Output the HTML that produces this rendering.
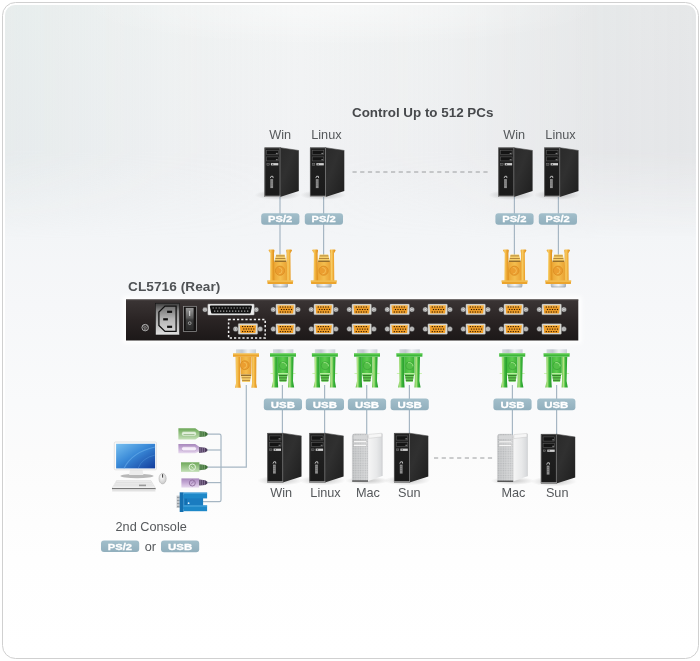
<!DOCTYPE html>
<html><head><meta charset="utf-8"><title>CL5716</title>
<style>
html,body{margin:0;padding:0;background:#fff;}
body{width:700px;height:661px;overflow:hidden;}
svg{display:block;will-change:transform;}
text{font-family:"Liberation Sans",sans-serif;}
</style></head>
<body>
<svg width="700" height="661" viewBox="0 0 700 661">
<defs>
  <linearGradient id="bg" gradientUnits="userSpaceOnUse" x1="0" y1="5" x2="0" y2="656">
    <stop offset="0" stop-color="#f2f4f4"/>
    <stop offset="0.24" stop-color="#f1f2f4"/>
    <stop offset="0.35" stop-color="#f3f5f7"/>
    <stop offset="0.46" stop-color="#f6f7f9"/>
    <stop offset="0.61" stop-color="#f9fafb"/>
    <stop offset="0.69" stop-color="#fbfbfb"/>
    <stop offset="0.85" stop-color="#fefefe"/>
    <stop offset="1" stop-color="#ffffff"/>
  </linearGradient>
  <linearGradient id="vig" gradientUnits="userSpaceOnUse" x1="5" y1="0" x2="695" y2="0">
    <stop offset="0" stop-color="#cfdddc" stop-opacity="0.3"/>
    <stop offset="0.22" stop-color="#cddbda" stop-opacity="0.1"/>
    <stop offset="0.43" stop-color="#d6dcdc" stop-opacity="0"/>
    <stop offset="0.65" stop-color="#d6d8da" stop-opacity="0.12"/>
    <stop offset="0.86" stop-color="#d6d8da" stop-opacity="0.42"/>
    <stop offset="1" stop-color="#d6d8da" stop-opacity="0.45"/>
  </linearGradient>
  <linearGradient id="vigmaskg" gradientUnits="userSpaceOnUse" x1="0" y1="5" x2="0" y2="240">
    <stop offset="0" stop-color="#fff"/>
    <stop offset="0.62" stop-color="#fff"/>
    <stop offset="1" stop-color="#000"/>
  </linearGradient>
  <mask id="vigmask"><rect x="0" y="0" width="700" height="661" fill="url(#vigmaskg)"/></mask>
  <linearGradient id="lbl" x1="0" y1="0" x2="0" y2="1">
    <stop offset="0" stop-color="#a3bfcb"/>
    <stop offset="1" stop-color="#91afbd"/>
  </linearGradient>
  <linearGradient id="dev" x1="0" y1="0" x2="0" y2="1">
    <stop offset="0" stop-color="#3b3535"/>
    <stop offset="0.5" stop-color="#2a2424"/>
    <stop offset="1" stop-color="#1c1818"/>
  </linearGradient>
  <linearGradient id="side" x1="0" y1="0" x2="1" y2="1">
    <stop offset="0" stop-color="#2a2a2a"/>
    <stop offset="0.4" stop-color="#303030"/>
    <stop offset="1" stop-color="#1e1e1e"/>
  </linearGradient>
  <linearGradient id="front" x1="0" y1="0" x2="0" y2="1">
    <stop offset="0" stop-color="#222"/>
    <stop offset="1" stop-color="#1a1a1a"/>
  </linearGradient>
  <linearGradient id="gold" x1="0" y1="0" x2="1" y2="0">
    <stop offset="0" stop-color="#e89c26"/>
    <stop offset="0.3" stop-color="#f7cc62"/>
    <stop offset="0.65" stop-color="#eea732"/>
    <stop offset="1" stop-color="#d88c1a"/>
  </linearGradient>
  <linearGradient id="green" x1="0" y1="0" x2="1" y2="0">
    <stop offset="0" stop-color="#5cc046"/>
    <stop offset="0.3" stop-color="#b4e486"/>
    <stop offset="0.6" stop-color="#3cb63a"/>
    <stop offset="1" stop-color="#24982a"/>
  </linearGradient>
  <linearGradient id="silverv" x1="0" y1="0" x2="0" y2="1">
    <stop offset="0" stop-color="#d8dadc"/>
    <stop offset="0.5" stop-color="#f4f5f6"/>
    <stop offset="1" stop-color="#c4c8cc"/>
  </linearGradient>
  <linearGradient id="silverv2" x1="0" y1="0" x2="1" y2="0">
    <stop offset="0" stop-color="#d4d9de"/>
    <stop offset="0.3" stop-color="#c2c9d0"/>
    <stop offset="0.6" stop-color="#eef0f2"/>
    <stop offset="1" stop-color="#c8cfd6"/>
  </linearGradient>
  <linearGradient id="goldbody" x1="0" y1="0" x2="1" y2="0">
    <stop offset="0" stop-color="#eca432"/>
    <stop offset="0.5" stop-color="#f4be4e"/>
    <stop offset="1" stop-color="#e99f30"/>
  </linearGradient>
  <linearGradient id="greenbody" x1="0" y1="0" x2="1" y2="0">
    <stop offset="0" stop-color="#3fb83a"/>
    <stop offset="0.5" stop-color="#5fcc50"/>
    <stop offset="1" stop-color="#38b034"/>
  </linearGradient>
  <linearGradient id="silverh" x1="0" y1="0" x2="1" y2="0">
    <stop offset="0" stop-color="#aeb6be"/>
    <stop offset="0.25" stop-color="#d8dde2"/>
    <stop offset="0.5" stop-color="#f2f4f6"/>
    <stop offset="0.75" stop-color="#d0d6dc"/>
    <stop offset="1" stop-color="#a4acb4"/>
  </linearGradient>
  <linearGradient id="silver" x1="0" y1="0" x2="1" y2="0">
    <stop offset="0" stop-color="#c8ccd0"/>
    <stop offset="0.5" stop-color="#f2f3f4"/>
    <stop offset="1" stop-color="#b8bcc0"/>
  </linearGradient>
  <linearGradient id="macfront" x1="0" y1="0" x2="1" y2="0">
    <stop offset="0" stop-color="#b4b6b8"/>
    <stop offset="1" stop-color="#e0e1e2"/>
  </linearGradient>
  <linearGradient id="macside" x1="0" y1="0" x2="1" y2="0">
    <stop offset="0" stop-color="#f6f6f6"/>
    <stop offset="0.6" stop-color="#e8e9ea"/>
    <stop offset="1" stop-color="#d6d8da"/>
  </linearGradient>
  <filter id="glow" x="-10%" y="-40%" width="120%" height="180%"><feGaussianBlur stdDeviation="2"/></filter>
  <linearGradient id="sockframe" x1="0" y1="0" x2="0" y2="1">
    <stop offset="0" stop-color="#3c3c3c"/>
    <stop offset="0.25" stop-color="#8c8c8c"/>
    <stop offset="1" stop-color="#e2e2e2"/>
  </linearGradient>
  <linearGradient id="sockin" x1="0" y1="0" x2="0" y2="1">
    <stop offset="0" stop-color="#6e6e6e"/>
    <stop offset="0.5" stop-color="#b4b4b4"/>
    <stop offset="1" stop-color="#d4d4d4"/>
  </linearGradient>
  <linearGradient id="rocker" x1="0" y1="0" x2="0" y2="1">
    <stop offset="0" stop-color="#9a9a9a"/>
    <stop offset="0.45" stop-color="#5a5a5a"/>
    <stop offset="0.55" stop-color="#3a3a3a"/>
    <stop offset="1" stop-color="#2a2a2a"/>
  </linearGradient>
  <linearGradient id="gpl" x1="0" y1="0" x2="0" y2="1">
    <stop offset="0" stop-color="#6ea85a"/>
    <stop offset="0.45" stop-color="#94c282"/>
    <stop offset="1" stop-color="#c4e0b8"/>
  </linearGradient>
  <linearGradient id="ppl" x1="0" y1="0" x2="0" y2="1">
    <stop offset="0" stop-color="#a888bc"/>
    <stop offset="0.45" stop-color="#c4a8d4"/>
    <stop offset="1" stop-color="#e6d8ee"/>
  </linearGradient>
  <clipPath id="innerclip"><rect x="5" y="5" width="691" height="651" rx="10"/></clipPath>
  <radialGradient id="tophl" cx="0.5" cy="0.5" r="0.5">
    <stop offset="0" stop-color="#fff" stop-opacity="0.45"/>
    <stop offset="0.6" stop-color="#fff" stop-opacity="0.2"/>
    <stop offset="1" stop-color="#fff" stop-opacity="0"/>
  </radialGradient>
  <radialGradient id="shadow" cx="0.5" cy="0.5" r="0.5">
    <stop offset="0" stop-color="#000" stop-opacity="0.22"/>
    <stop offset="1" stop-color="#000" stop-opacity="0"/>
  </radialGradient>
  <linearGradient id="screen" x1="0" y1="0" x2="1" y2="1">
    <stop offset="0" stop-color="#78c0f0"/>
    <stop offset="0.45" stop-color="#3a8ad8"/>
    <stop offset="1" stop-color="#123c9c"/>
  </linearGradient>
  <radialGradient id="mouseg" cx="0.4" cy="0.35" r="0.7">
    <stop offset="0" stop-color="#fafafa"/>
    <stop offset="1" stop-color="#c8c8c8"/>
  </radialGradient>

  <!-- black tower: origin top-left of front face -->
  <g id="tower">
    <ellipse cx="13" cy="47.5" rx="23" ry="5" fill="url(#shadow)"/>
    <path d="M15.5,0.2 L34.3,3 L34.3,43.5 L15.5,49.4 Z" fill="url(#side)"/>
    <path d="M15.5,0.2 L34.3,3" stroke="#4a4a4a" stroke-width="0.6"/>
    <rect x="0" y="0" width="16" height="49.5" fill="url(#front)"/>
    <path d="M0.35,49 L0.35,0.35 L15.7,0.35" fill="none" stroke="#747474" stroke-width="0.7"/>
    <line x1="15.5" y1="0.5" x2="15.5" y2="49" stroke="#8c8c8c" stroke-width="0.7"/>
    <rect x="2.2" y="2.9" width="11.6" height="4.2" fill="#141414" stroke="#626262" stroke-width="0.5"/>
    <rect x="2.2" y="9.4" width="11.6" height="4.0" fill="#141414" stroke="#626262" stroke-width="0.5"/>
    <rect x="11.4" y="5.4" width="1.8" height="0.9" fill="#9a9a9a"/>
    <rect x="11.4" y="11.8" width="1.8" height="0.9" fill="#9a9a9a"/>
    <rect x="2.4" y="15.9" width="2.4" height="1.8" fill="#3a3a3a" stroke="#888" stroke-width="0.4"/>
    <rect x="6.4" y="15.6" width="7.4" height="2.3" fill="#cfcfcf"/>
    <rect x="7.6" y="16.3" width="1.2" height="1" fill="#444"/>
    <path d="M5.8,30.6 L6.6,28.8 L8.4,28.8 L8.6,30.6" fill="none" stroke="#e0e0e0" stroke-width="0.8"/>
    <rect x="5.8" y="31.6" width="2.8" height="9" fill="#8e8e8e"/>
    <path d="M6.1,33.6 h2.2 M6.1,35.6 h2.2 M6.1,37.6 h2.2" stroke="#5e5e5e" stroke-width="0.5"/>
    <rect x="0" y="48.2" width="16" height="1.3" fill="#a0a0a0"/>
  </g>

  <!-- Mac Pro tower -->
  <pattern id="holes" x="0" y="0" width="2.4" height="2.4" patternUnits="userSpaceOnUse">
    <rect width="2.4" height="2.4" fill="#d4d5d6"/>
    <circle cx="1.2" cy="1.2" r="0.7" fill="#aeb0b2"/>
  </pattern>
  <g id="mac">
    <ellipse cx="15" cy="47.5" rx="22" ry="4" fill="url(#shadow)"/>
    <path d="M15.6,2.4 L30,0.4 L30,42.8 L15.6,48 Z" fill="url(#macside)"/>
    <path d="M30,0.4 L30,42.8" stroke="#c4c6c8" stroke-width="0.6"/>
    <path d="M16.4,1.2 L29.4,0 L29.6,3.6 L16.4,5.2 Z" fill="#f6f6f6" stroke="#c0c0c0" stroke-width="0.4"/>
    <path d="M0,3.2 Q0,0.6 2.6,0.6 L13.2,0.6 Q15.8,0.6 15.8,3.2 L15.8,48.4 L0,48.4 Z" fill="url(#holes)"/>
    <path d="M0,3.2 Q0,0.6 2.6,0.6 L13.2,0.6 Q15.8,0.6 15.8,3.2 L15.8,48.4 L0,48.4 Z" fill="url(#macfront)" opacity="0.35" stroke="#a8aaac" stroke-width="0.5"/>
    <rect x="1.4" y="2.2" width="13" height="3.6" rx="1" fill="#d6d7d8"/>
    <rect x="1.6" y="7.6" width="12.6" height="1.8" fill="#f6f6f6" stroke="#b0b0b0" stroke-width="0.3"/>
    <rect x="1.6" y="11.2" width="12.6" height="1.8" fill="#f6f6f6" stroke="#b0b0b0" stroke-width="0.3"/>
    <rect x="0" y="47.2" width="15.8" height="1.3" fill="#4a4a4a"/>
  </g>

  <!-- gold connector pointing down (plug end at bottom). box 26x38 -->
  <g id="conn">
    <rect x="5.4" y="34" width="15.2" height="4" rx="1.2" fill="url(#silverh)"/>
    <rect x="6" y="37.3" width="14" height="0.7" fill="#9aa2aa"/>
    <path d="M6.6,12.4 L19.4,12.4 L20.2,31.6 L5.8,31.6 Z" fill="url(#goldbody)"/>
    <path d="M8.8,5.2 L17.2,5.2 L19.2,12.8 L6.8,12.8 Z" fill="#f7d06c"/>
    <g stroke="#86561a" stroke-width="0.6">
      <line x1="8.7" y1="6.6" x2="17.3" y2="6.6"/>
      <line x1="8" y1="9.2" x2="18" y2="9.2"/>
      <line x1="7.2" y1="11.9" x2="18.8" y2="11.9" stroke="#5a3406" stroke-width="0.9"/>
    </g>
    <circle cx="12.6" cy="21.4" r="4.6" fill="#eb9e30" stroke="#d88a20" stroke-width="0.7"/>
    <path d="M11.4,18.2 A3.2,3.2 0 0 1 11.4,24.6" fill="none" stroke="#f4bf58" stroke-width="0.9"/>
    <path d="M1.2,1.2 Q1.2,0.2 2.4,0.2 L6,0.2 Q7.2,0.2 7,1.4 L6.6,4 L6.9,31.6 L2.6,31.6 L2.9,4 Z" fill="url(#gold)"/>
    <path d="M18.8,1.4 Q18.6,0.2 19.8,0.2 L23.4,0.2 Q24.6,0.2 24.6,1.2 L23,4 L23.3,31.6 L19,31.6 L19.2,4 Z" fill="url(#gold)"/>
    <path d="M-0.2,31.3 L25.8,31.3 L25.4,34.6 L0.2,34.6 Z" fill="#eba42e"/>
    <rect x="-0.2" y="31.3" width="26" height="1" fill="#f7cc66"/>
  </g>

  <!-- connector pointing up (plug at top), box 26x38.5 -->
  <g id="connUpG">
    <rect x="3" y="0.2" width="20" height="4.2" fill="url(#silverv2)"/>
    <path d="M7.6,7.6 L18.6,7.6 L18.4,25.4 L7.8,25.4 Z" fill="url(#goldbody)"/>
    <path d="M7.8,25.2 L18.4,25.2 L17,32.8 L9.2,32.8 Z" fill="#f7d06c"/>
    <g stroke="#86561a" stroke-width="0.6">
      <line x1="8" y1="26" x2="18.2" y2="26" stroke="#5a3406" stroke-width="0.9"/>
      <line x1="8.6" y1="28.6" x2="17.6" y2="28.6"/>
      <line x1="9.1" y1="31.2" x2="17" y2="31.2"/>
    </g>
    <circle cx="11.8" cy="16" r="4.4" fill="#eb9e30" stroke="#d88a20" stroke-width="0.7"/>
    <path d="M10.6,12.9 A3.1,3.1 0 0 1 10.6,19.1" fill="none" stroke="#f4bf58" stroke-width="0.9"/>
    <path d="M2.6,7.6 L7.4,7.6 L7.2,34 L7.8,38.6 L2,38.6 L3,34 Z" fill="url(#gold)"/>
    <path d="M18.8,7.6 L23.4,7.6 L23.2,34 L24,38.6 L18.4,38.6 L19,34 Z" fill="url(#gold)"/>
    <path d="M0,4.3 L26,4.3 L26,7.6 L0,7.6 Z" fill="#eba42e"/>
    <rect x="0" y="4.3" width="26" height="1" fill="#f6c85e"/>
  </g>

  <g id="connUpGr">
    <rect x="3" y="0.2" width="20.4" height="4.2" fill="url(#silverv2)"/>
    <path d="M7.8,7.6 L18.2,7.6 L18.2,25.4 L7.8,25.4 Z" fill="url(#greenbody)"/>
    <path d="M8.4,25.2 L17.6,25.2 L16.4,32.6 L9.6,32.6 Z" fill="#66cc55"/>
    <g stroke="#2a6a1e" stroke-width="0.8">
      <line x1="8.6" y1="26.4" x2="17.4" y2="26.4"/>
      <line x1="9" y1="28.8" x2="17" y2="28.8"/>
      <line x1="9.4" y1="31.2" x2="16.6" y2="31.2"/>
    </g>
    <line x1="0.5" y1="24.4" x2="25.5" y2="24.4" stroke="#c4f0a8" stroke-width="0.9"/>
    <circle cx="13.3" cy="16.6" r="4" fill="#54c048" stroke="#3aa235" stroke-width="0.7"/>
    <path d="M11.6,13.6 A3.8,3.8 0 0 1 16.6,17.2" fill="none" stroke="#a8e890" stroke-width="0.8"/>
    <path d="M2.6,7.6 L7.8,7.6 L7.8,32 L8.2,38.4 L1.6,38.4 L3,32 Z" fill="url(#green)"/>
    <path d="M18.4,7.6 L23.6,7.6 L23,32 L24.2,38.4 L18,38.4 L18.4,32 Z" fill="url(#green)"/>
    <path d="M0,4.3 L26,4.3 L26,7.6 L0,7.6 Z" fill="#3cb83a"/>
    <rect x="0" y="4.3" width="26" height="1" fill="#78d868"/>
  </g>

  <!-- VGA port on device; origin = left screw center -->
  <g id="port">
    <circle cx="0" cy="0" r="2.5" fill="#d8d8d8" stroke="#3a3a3a" stroke-width="0.5"/>
    <circle cx="0" cy="0" r="1.2" fill="none" stroke="#7a7a7a" stroke-width="0.5"/>
    <circle cx="24.6" cy="0" r="2.5" fill="#d8d8d8" stroke="#3a3a3a" stroke-width="0.5"/>
    <circle cx="24.6" cy="0" r="1.2" fill="none" stroke="#7a7a7a" stroke-width="0.5"/>
    <rect x="2.6" y="-5.4" width="19.5" height="10.6" rx="0.8" fill="#dcdcd6" stroke="#8a8a8a" stroke-width="0.35"/>
    <path d="M4.2,-4 L20.5,-4 L19.8,4 L4.9,4 Z" fill="#f09e28"/>
    <path d="M4.2,-4 L20.5,-4 L20.4,-3 L4.3,-3 Z" fill="#f8c060"/>
    <g fill="#2e1800"><rect x="6.4" y="-3.05" width="1.2" height="1.1"/><rect x="8.9" y="-3.05" width="1.2" height="1.1"/><rect x="11.4" y="-3.05" width="1.2" height="1.1"/><rect x="13.9" y="-3.05" width="1.2" height="1.1"/><rect x="16.4" y="-3.05" width="1.2" height="1.1"/><rect x="7.6" y="-0.55" width="1.2" height="1.1"/><rect x="10.1" y="-0.55" width="1.2" height="1.1"/><rect x="12.6" y="-0.55" width="1.2" height="1.1"/><rect x="15.1" y="-0.55" width="1.2" height="1.1"/><rect x="17.6" y="-0.55" width="1.2" height="1.1"/><rect x="6.4" y="1.95" width="1.2" height="1.1"/><rect x="8.9" y="1.95" width="1.2" height="1.1"/><rect x="11.4" y="1.95" width="1.2" height="1.1"/><rect x="13.9" y="1.95" width="1.2" height="1.1"/><rect x="16.4" y="1.95" width="1.2" height="1.1"/></g>
  </g>

  <g id="lblPS2">
    <rect x="0" y="0" width="38.2" height="11.6" rx="3" fill="url(#lbl)"/>
    <text x="6.8" y="9.3" font-size="9.8" font-weight="bold" fill="#fff" stroke="#fff" stroke-width="0.3" textLength="24.2" lengthAdjust="spacingAndGlyphs">PS/2</text>
  </g>
  <g id="lblUSB">
    <rect x="0" y="0" width="38.2" height="11.8" rx="3" fill="url(#lbl)"/>
    <text x="7" y="9.4" font-size="9.8" font-weight="bold" fill="#fff" stroke="#fff" stroke-width="0.3" textLength="24.2" lengthAdjust="spacingAndGlyphs">USB</text>
  </g>
</defs>

<!-- background -->
<rect x="0" y="0" width="700" height="661" fill="#fff"/>
<rect x="2.5" y="2.5" width="696" height="656" rx="13" fill="#fff" stroke="#d0d0d0" stroke-width="1"/>
<rect x="5" y="5" width="691" height="651" rx="10" fill="url(#bg)"/>
<rect x="5" y="5" width="691" height="330" rx="10" fill="url(#vig)" mask="url(#vigmask)"/>
<ellipse cx="340" cy="8" rx="260" ry="38" fill="url(#tophl)" clip-path="url(#innerclip)"/>

<!-- title -->
<text x="352" y="117.4" font-size="13.4" font-weight="bold" fill="#47494c">Control Up to 512 PCs</text>

<!-- dashed lines -->
<line x1="352.5" y1="172" x2="491" y2="172" stroke="#9a9c9e" stroke-width="1" stroke-dasharray="4.2,3.5"/>
<line x1="434" y1="458" x2="493.5" y2="458" stroke="#9a9c9e" stroke-width="1" stroke-dasharray="4.2,3.5"/>

<!-- cable lines (top) -->
<g stroke="#a6b6c3" stroke-width="1.2">
  <line x1="280" y1="195" x2="280" y2="255"/>
  <line x1="323.6" y1="195" x2="323.6" y2="255"/>
  <line x1="514.4" y1="195" x2="514.4" y2="255"/>
  <line x1="558.4" y1="195" x2="558.4" y2="255"/>
</g>

<!-- top labels -->
<g font-size="12.7" fill="#55585b" text-anchor="middle">
  <text x="280.1" y="139">Win</text>
  <text x="326.4" y="139">Linux</text>
  <text x="514.2" y="139">Win</text>
  <text x="560.5" y="139">Linux</text>
</g>

<!-- top towers -->
<use href="#tower" x="264.5" y="147.5"/>
<use href="#tower" x="310" y="147.5"/>
<use href="#tower" x="498.3" y="147.5"/>
<use href="#tower" x="544.2" y="147.5"/>

<!-- top PS/2 labels -->
<use href="#lblPS2" x="261.2" y="213.2"/>
<use href="#lblPS2" x="304.8" y="213.2"/>
<use href="#lblPS2" x="495.4" y="213.2"/>
<use href="#lblPS2" x="538.8" y="213.2"/>

<!-- top connectors -->
<use href="#conn" x="267.4" y="249.3"/>
<use href="#conn" x="311" y="249.3"/>
<use href="#conn" x="501.8" y="249.3"/>
<use href="#conn" x="545.4" y="249.3"/>

<!-- device -->
<text x="128" y="291.4" font-size="13.6" font-weight="bold" fill="#4f5255" textLength="92.4" lengthAdjust="spacing">CL5716 (Rear)</text>
<rect x="123" y="296.5" width="458.3" height="47" fill="#fff" filter="url(#glow)"/>
<rect x="126" y="299.5" width="452.3" height="41" fill="url(#dev)"/>
<line x1="126" y1="300" x2="578.3" y2="300" stroke="#4a4444" stroke-width="1"/>
<!-- screw -->
<circle cx="145.2" cy="327.6" r="4" fill="#2a2626" stroke="#1a1616" stroke-width="0.6"/>
<circle cx="145.2" cy="327.6" r="3.3" fill="none" stroke="#c8c8c8" stroke-width="0.8"/>
<circle cx="143.8" cy="326.6" r="1" fill="none" stroke="#bbb" stroke-width="0.5"/>
<circle cx="146.6" cy="326.6" r="1" fill="none" stroke="#bbb" stroke-width="0.5"/>
<circle cx="145.2" cy="329" r="1" fill="none" stroke="#bbb" stroke-width="0.5"/>
<!-- power socket -->
<rect x="155.4" y="303.2" width="24.2" height="31.8" fill="url(#sockframe)" stroke="#151515" stroke-width="0.6"/>
<path d="M165,306.1 L176.1,306.1 L176.1,331.4 L165,331.4 L158.9,325.5 L158.9,312 Z" fill="url(#sockin)" stroke="#111" stroke-width="1.3"/>
<rect x="167.1" y="310.7" width="5" height="2.2" fill="#111"/>
<rect x="163.2" y="318.2" width="4.7" height="2.2" fill="#111"/>
<rect x="167.1" y="325.7" width="5" height="2.2" fill="#111"/>
<!-- switch -->
<rect x="183.4" y="306.3" width="13.2" height="25.3" fill="#141212" stroke="#9a9a9a" stroke-width="0.7"/>
<rect x="185.7" y="307.9" width="7.9" height="22.1" fill="url(#rocker)"/>
<line x1="189.7" y1="310.8" x2="189.7" y2="316" stroke="#e8e8e8" stroke-width="0.9"/>
<circle cx="189.7" cy="323.2" r="1.4" fill="none" stroke="#ccc" stroke-width="0.6"/>
<!-- DB25 -->
<circle cx="205" cy="309.7" r="2.4" fill="#d8d8d8" stroke="#444" stroke-width="0.5"/>
<circle cx="205" cy="309.7" r="1.1" fill="none" stroke="#777" stroke-width="0.5"/>
<circle cx="256.3" cy="309.7" r="2.4" fill="#d8d8d8" stroke="#444" stroke-width="0.5"/>
<circle cx="256.3" cy="309.7" r="1.1" fill="none" stroke="#777" stroke-width="0.5"/>
<rect x="207.8" y="304" width="46.4" height="11.1" rx="0.8" fill="#ececec" stroke="#9a9a9a" stroke-width="0.4"/>
<path d="M211,305.5 L250.8,305.5 Q252.2,305.5 251.9,306.8 L250.7,312.4 Q250.4,313.6 249.2,313.6 L212.6,313.6 Q211.4,313.6 211.1,312.4 L209.9,306.8 Q209.6,305.5 211,305.5 Z" fill="#111"/>
<line x1="212.6" y1="308" x2="250" y2="308" stroke="#b4b4b4" stroke-width="1.1" stroke-dasharray="1.2,1.8"/>
<line x1="214.1" y1="311.1" x2="248.5" y2="311.1" stroke="#b4b4b4" stroke-width="1.1" stroke-dasharray="1.2,1.8"/>
<!-- dashed box -->
<rect x="228.6" y="319.6" width="36.6" height="18.4" fill="none" stroke="#f2f2f2" stroke-width="1.5" stroke-dasharray="2.2,2"/>
<use href="#port" x="235.6" y="329"/>
<!-- port rows -->
<g id="row">
<use href="#port" x="273.3" y="309.5"/>
<use href="#port" x="311.3" y="309.5"/>
<use href="#port" x="349.3" y="309.5"/>
<use href="#port" x="387.3" y="309.5"/>
<use href="#port" x="425.3" y="309.5"/>
<use href="#port" x="463.3" y="309.5"/>
<use href="#port" x="501.3" y="309.5"/>
<use href="#port" x="539.3" y="309.5"/>
</g>
<use href="#row" x="0" y="19.6"/>

<!-- bottom cable lines -->
<g stroke="#a6b6c3" stroke-width="1.2" fill="none">
  <line x1="282.4" y1="385" x2="282.4" y2="436"/>
  <line x1="324.6" y1="385" x2="324.6" y2="436"/>
  <line x1="366.7" y1="385" x2="366.7" y2="436"/>
  <line x1="409.4" y1="385" x2="409.4" y2="436"/>
  <line x1="512.4" y1="385" x2="512.4" y2="436"/>
  <line x1="556.6" y1="385" x2="556.6" y2="436"/>
  <path d="M246.3,385 L246.3,467.2 L207.5,467.2"/>
  <path d="M207.5,434.1 L219.4,434.1 Q221,434.1 221,435.8 L221,500 Q221,501.7 219.4,501.7 L203,501.7"/>
  <line x1="207.4" y1="450" x2="221" y2="450"/>
  <line x1="207.4" y1="482.6" x2="221" y2="482.6"/>
</g>

<!-- bottom connectors -->
<use href="#connUpG" x="233" y="349.2"/>
<use href="#connUpGr" x="270" y="349.1"/>
<use href="#connUpGr" x="311.9" y="349.1"/>
<use href="#connUpGr" x="354" y="349.1"/>
<use href="#connUpGr" x="396.4" y="349.1"/>
<use href="#connUpGr" x="499.2" y="349.1"/>
<use href="#connUpGr" x="543.6" y="349.1"/>

<!-- USB labels -->
<use href="#lblUSB" x="263.8" y="398.5"/>
<use href="#lblUSB" x="305.8" y="398.5"/>
<use href="#lblUSB" x="347.9" y="398.5"/>
<use href="#lblUSB" x="390.6" y="398.5"/>
<use href="#lblUSB" x="493.4" y="398.5"/>
<use href="#lblUSB" x="537.2" y="398.5"/>

<!-- bottom towers -->
<use href="#tower" x="267.2" y="433"/>
<use href="#tower" x="309.3" y="433"/>
<use href="#mac" x="352.2" y="433.2"/>
<use href="#tower" x="394" y="433"/>
<use href="#mac" x="497.4" y="433.4"/>
<use href="#tower" x="540.9" y="434"/>

<g font-size="12.7" fill="#55585b" text-anchor="middle">
  <text x="281.2" y="496.8">Win</text>
  <text x="325.5" y="496.8">Linux</text>
  <text x="367.9" y="496.8">Mac</text>
  <text x="409.3" y="496.8">Sun</text>
  <text x="513.4" y="496.8">Mac</text>
  <text x="557.2" y="496.8">Sun</text>
</g>

<!-- console -->
<g id="console">
  <ellipse cx="137" cy="476" rx="16.5" ry="2.2" fill="#b8b8b8"/>
  <path d="M130,469.5 L142.5,469.5 L143.5,475 L129,475 Z" fill="#ececec"/>
  <rect x="114.3" y="442" width="42.2" height="27.8" rx="1.2" fill="#fbfbfb" stroke="#d4d4d4" stroke-width="0.6"/>
  <rect x="116.1" y="443.8" width="39" height="24.6" fill="url(#screen)"/>
  <path d="M124,468.4 Q132,452 155.1,447" fill="none" stroke="#6ab0ec" stroke-width="1.2" opacity="0.6"/>
  <path d="M138,468.4 Q142,458 155.1,455" fill="none" stroke="#5aa0e0" stroke-width="0.8" opacity="0.5"/>
  <path d="M116.5,480.6 L151,480.6 L155.5,488.4 L112,488.4 Z" fill="#f2f2f2" stroke="#d6d6d6" stroke-width="0.5"/>
  <g stroke="#c4c4c4" stroke-width="0.45">
    <line x1="116" y1="482.3" x2="151.5" y2="482.3"/>
    <line x1="115" y1="484.1" x2="152.5" y2="484.1"/>
    <line x1="114" y1="485.9" x2="153.6" y2="485.9"/>
  </g>
  <rect x="139" y="484.6" width="7" height="1.6" fill="#9a9a9a"/>
  <rect x="112" y="488.2" width="43.6" height="1.1" fill="#5a5a5a"/>
  <rect x="112.2" y="489.3" width="43.2" height="2.2" fill="#e2e2e2"/>
  <ellipse cx="162.6" cy="478.6" rx="3.6" ry="5.3" fill="url(#mouseg)" stroke="#a8a8a8" stroke-width="0.5"/>
  <line x1="162.6" y1="474.2" x2="162.6" y2="477.6" stroke="#3a3a3a" stroke-width="1"/>
</g>

<!-- console plugs -->
<g>
  <!-- 1 green usb -->
  <path d="M178.4,428.3 L195.4,428.3 L199.4,431.2 L199.4,436.8 L195.4,439.5 L178.4,439.5 Z" fill="url(#gpl)"/>
  <rect x="181.5" y="431.6" width="15" height="4.6" rx="2.3" fill="#e2f0dc" stroke="#8ab87a" stroke-width="0.5"/>
  <line x1="183.5" y1="434.6" x2="194.5" y2="434.6" stroke="#6a9a5a" stroke-width="0.6"/>
  <path d="M199.4,431.1 L205.4,431.8 L207.6,433.20000000000005 L207.6,435.0 L205.4,436.40000000000003 L199.4,437.1 Z" fill="#3e6e38"/><g stroke="#9cc890" stroke-width="0.55"><line x1="201.0" y1="431.3" x2="201.0" y2="436.90000000000003"/><line x1="202.8" y1="431.5" x2="202.8" y2="436.70000000000005"/><line x1="204.6" y1="431.70000000000005" x2="204.6" y2="436.5"/></g>
  <!-- 2 purple usb -->
  <path d="M178.4,444 L195.2,444 L199.2,446.8 L199.2,451.4 L195.2,453.2 L178.4,453.2 Z" fill="url(#ppl)"/>
  <rect x="181.5" y="446.8" width="15" height="4" rx="2" fill="#f6eefa" stroke="#b498c4" stroke-width="0.5"/>
  <path d="M199.2,447 L205.2,447.7 L207.39999999999998,449.1 L207.39999999999998,450.9 L205.2,452.3 L199.2,453 Z" fill="#4a3a5a"/><g stroke="#b8a0c8" stroke-width="0.55"><line x1="200.79999999999998" y1="447.2" x2="200.79999999999998" y2="452.8"/><line x1="202.6" y1="447.4" x2="202.6" y2="452.6"/><line x1="204.39999999999998" y1="447.6" x2="204.39999999999998" y2="452.4"/></g>
  <!-- 3 green ps2 -->
  <rect x="181" y="462.3" width="18.4" height="9.6" fill="url(#gpl)"/>
  <circle cx="192.3" cy="467.2" r="3.2" fill="none" stroke="#e6f4e0" stroke-width="1"/>
  <path d="M190.8,466 L193.5,468.6" stroke="#e6f4e0" stroke-width="0.7"/>
  <path d="M199.4,464.2 L205.4,464.9 L207.6,466.3 L207.6,468.09999999999997 L205.4,469.5 L199.4,470.2 Z" fill="#3e6e38"/><g stroke="#9cc890" stroke-width="0.55"><line x1="201.0" y1="464.4" x2="201.0" y2="470.0"/><line x1="202.8" y1="464.59999999999997" x2="202.8" y2="469.8"/><line x1="204.6" y1="464.8" x2="204.6" y2="469.59999999999997"/></g>
  <!-- 4 purple ps2 -->
  <rect x="181.4" y="478.4" width="17.8" height="9.2" fill="url(#ppl)"/>
  <circle cx="192.3" cy="483" r="3" fill="none" stroke="#8e6e9e" stroke-width="0.9"/>
  <path d="M190.6,484.6 L194,481.4" stroke="#8e6e9e" stroke-width="0.7"/>
  <path d="M199.2,479.6 L205.2,480.3 L207.39999999999998,481.70000000000005 L207.39999999999998,483.5 L205.2,484.90000000000003 L199.2,485.6 Z" fill="#4a3a5a"/><g stroke="#b8a0c8" stroke-width="0.55"><line x1="200.79999999999998" y1="479.8" x2="200.79999999999998" y2="485.40000000000003"/><line x1="202.6" y1="480.0" x2="202.6" y2="485.20000000000005"/><line x1="204.39999999999998" y1="480.20000000000005" x2="204.39999999999998" y2="485.0"/></g>
  <!-- 5 blue vga -->
  <rect x="176.6" y="495.6" width="3.4" height="12.4" fill="#c4c8cc"/>
  <g fill="#8a9096"><rect x="177" y="497" width="2.6" height="0.8"/><rect x="177" y="500" width="2.6" height="0.8"/><rect x="177" y="503" width="2.6" height="0.8"/><rect x="177" y="506" width="2.6" height="0.8"/></g>
  <rect x="179.7" y="492.3" width="3.8" height="19.7" fill="#1670b0"/>
  <rect x="183.3" y="495" width="19.8" height="14" fill="#1a7cc0"/>
  <rect x="183.3" y="492.6" width="23.8" height="5.8" fill="#1e88c8"/>
  <rect x="183.3" y="505.4" width="23.8" height="5.8" fill="#1e88c8"/>
  <rect x="183.3" y="492.6" width="23.8" height="1.2" fill="#4aa4dc"/>
  <rect x="183.3" y="505.4" width="23.8" height="1.2" fill="#4aa4dc"/>
  <line x1="186" y1="498.8" x2="186" y2="505" stroke="#0e5a94" stroke-width="0.8"/>
  <circle cx="188.6" cy="503.2" r="0.9" fill="#e8f4ff"/>
</g>

<!-- 2nd console text -->
<text x="151.2" y="531.1" font-size="12.7" fill="#55585b" text-anchor="middle">2nd Console</text>
<use href="#lblPS2" x="101" y="540.4"/>
<text x="150.3" y="551.3" font-size="12.7" fill="#55585b" text-anchor="middle">or</text>
<use href="#lblUSB" x="161" y="540.4"/>

</svg>
</body></html>
